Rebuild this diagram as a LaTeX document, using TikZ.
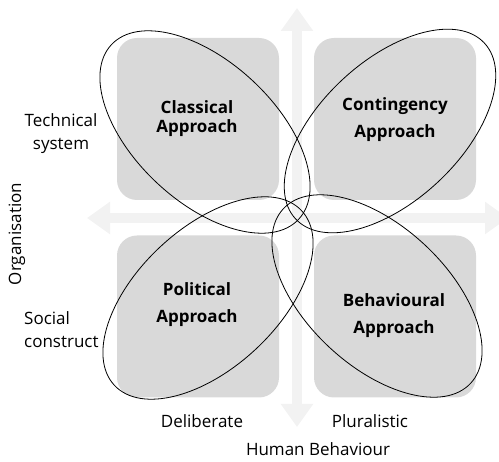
\documentclass[tikz,border=0pt]{standalone}
\usepackage{fontspec}
\setmainfont{Open Sans}
\usetikzlibrary{arrows.meta}

\begin{document}
\begin{tikzpicture}[x=1pt,y=1pt,
    quad/.style={fill=black!15,rounded corners=20pt,minimum size=162pt,inner sep=0pt},
    axis/.style={line width=10pt,draw=black!5,{Triangle[length=23pt,width=31pt]}-{Triangle[length=23pt,width=31pt]}},
    loop/.style={draw=black,line width=0.8pt},
    lbl/.style={font=\fontsize{17}{23}\selectfont,align=center,inner sep=0pt},
    approach/.style={font=\fontsize{17}{27}\selectfont\bfseries,align=center,inner sep=0pt}]
  \useasboundingbox (0,0) rectangle (499,-462);

  % axes
  \coordinate (west) at (87,-218);
  \coordinate (east) at (508,-218);
  \coordinate (north) at (297,-8);
  \coordinate (south) at (297,-427);
  \draw[axis] (west) -- (east);
  \draw[axis] (north) -- (south);

  % quadrants
  \node[quad] (classical) at (198,-119) {};
  \node[quad] (contingency) at (395,-119) {};
  \node[quad] (political) at (198,-316.5) {};
  \node[quad] (behavioural) at (395,-316.5) {};

  \node[approach] (classicaltxt) at (197,-119) {Classical\\[-8pt]Approach};
  \node[approach] (contingencytxt) at (395,-120) {Contingency\\Approach};
  \node[approach] (politicaltxt) at (197,-305) {Political\\Approach};
  \node[approach] (behaviouraltxt) at (394,-315.5) {Behavioural\\Approach};

  % loops round each approach
  \coordinate (c1) at (205,-132);
  \coordinate (c2) at (390,-131);
  \coordinate (c3) at (208,-298);
  \coordinate (c4) at (377,-296);
  \draw[loop,rotate around={-43:(c1)}] (c1) ellipse [x radius=128pt,y radius=70pt];
  \draw[loop,rotate around={43:(c2)}] (c2) ellipse [x radius=129pt,y radius=70pt];
  \draw[loop,rotate around={43:(c3)}] (c3) ellipse [x radius=128pt,y radius=70pt];
  \draw[loop,rotate around={-43:(c4)}] (c4) ellipse [x radius=128pt,y radius=70pt];

  % axis labels
  \node[lbl] (technical) at (61,-134) {Technical\\system};
  \node[lbl,anchor=west,align=left] (social) at (24,-330) {Social\\construct};
  \node[lbl,rotate=90] (organisation) at (17,-234) {Organisation};
  \node[lbl] (deliberate) at (202,-421) {Deliberate};
  \node[lbl] (pluralistic) at (370,-421) {Pluralistic};
  \node[lbl] (human) at (318,-449) {Human Behaviour};
\end{tikzpicture}
\end{document}
